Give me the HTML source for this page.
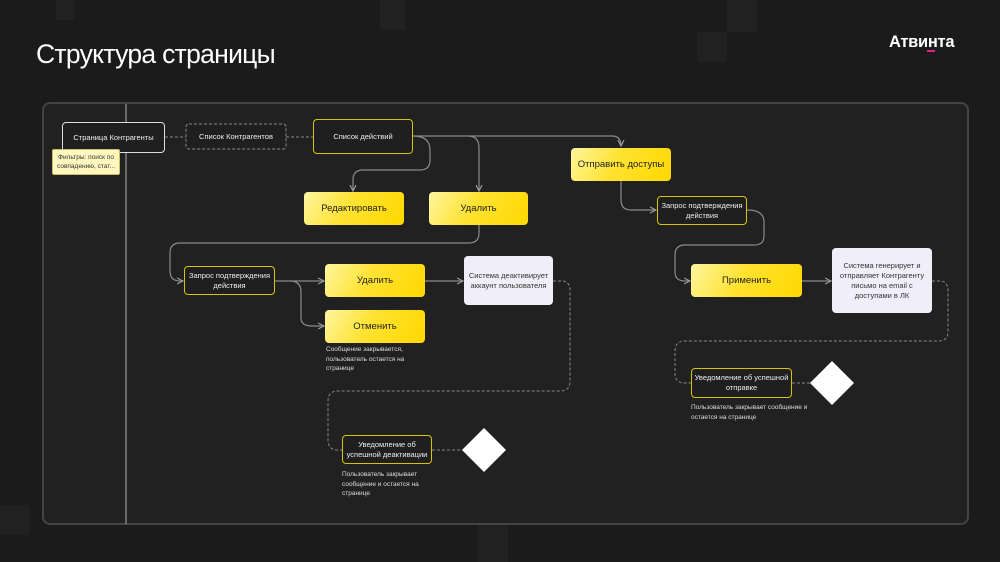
<!DOCTYPE html>
<html><head><meta charset="utf-8"><style>
*{margin:0;padding:0;box-sizing:border-box}
body{width:1000px;height:562px;background:#1b1b1b;position:relative;overflow:hidden;font-family:"Liberation Sans","DejaVu Sans",sans-serif}
.sq{position:absolute;background:#212121}
.n{position:absolute;display:flex;align-items:center;justify-content:center;text-align:center;font-size:7.5px;line-height:10px;color:#eee;border-radius:4px}
.dk{background:#1f1f1f;border:1.3px solid #d9c400}
.yl{background:linear-gradient(120deg,#fff6a0 0%,#ffe230 45%,#ffd800 100%);color:#222;font-size:9.5px;border-radius:4px;font-weight:500}
.lt{background:#f0eff9;color:#333;border-radius:4px}
.t{position:absolute;font-size:6.5px;line-height:9.5px;color:#ddd}
</style></head><body>
<div class="sq" style="left:56px;top:0;width:18px;height:20px"></div>
<div class="sq" style="left:380px;top:0;width:25px;height:30px"></div>
<div class="sq" style="left:697px;top:32px;width:30px;height:30px"></div>
<div class="sq" style="left:727px;top:0;width:30px;height:32px"></div>
<div class="sq" style="left:0;top:505px;width:30px;height:30px"></div>
<div class="sq" style="left:478px;top:525px;width:30px;height:37px"></div>
<div style="position:absolute;left:36px;top:39px;font-size:26.5px;color:#fff;letter-spacing:-0.7px;">Структура страницы</div>
<div style="position:absolute;left:889px;top:33px;font-size:16.5px;font-weight:bold;color:#fff;letter-spacing:-0.3px">Атвинта</div>
<div style="position:absolute;left:927px;top:50px;width:8px;height:2px;background:#e0208a"></div>
<div style="position:absolute;left:42px;top:102px;width:927px;height:423px;border:2px solid #444;border-radius:8px;background:#212121"></div>
<svg width="1000" height="562" style="position:absolute;left:0;top:0">
<defs><marker id="a" markerWidth="6" markerHeight="6" refX="5" refY="3" orient="auto"><path d="M0,0.5 L5,3 L0,5.5" fill="none" stroke="#999" stroke-width="1"/></marker></defs>
<g fill="none" stroke="#8a8a8a" stroke-width="1.2">
<line x1="126" y1="104" x2="126" y2="524" stroke="#999"/>
<path d="M413,136 H612 Q621,136 621,146" marker-end="url(#a)"/>
<path d="M413,136 Q430,136 430,150 V160 Q430,170 420,170 H363 Q353,170 353,180 V191" marker-end="url(#a)"/>
<path d="M468,136 Q479,136 479,148 V191" marker-end="url(#a)"/>
<path d="M479,225 V233 Q479,243 469,243 H180 Q170,243 170,253 V271 Q170,281 180,281 H183" marker-end="url(#a)"/>
<path d="M275,281 H324" marker-end="url(#a)"/>
<path d="M290,281 Q301,281 301,292 V318 Q301,326 312,326 H324" marker-end="url(#a)"/>
<path d="M425,281 H463" marker-end="url(#a)"/>
<path d="M621,181 V200 Q621,210 631,210 H656" marker-end="url(#a)"/>
<path d="M747,210 Q764,210 764,222 V236 Q764,245 754,245 H685 Q675,245 675,255 V272 Q675,281 685,281 H690" marker-end="url(#a)"/>
<path d="M802,281 H831" marker-end="url(#a)"/>
</g>
<g fill="none" stroke="#888" stroke-width="1" stroke-dasharray="3,2">
<line x1="165" y1="137" x2="186" y2="137"/>
<line x1="286" y1="137" x2="313" y2="137"/>
<path d="M553,281 H562 Q570,281 570,291 V381 Q570,391 560,391 H338 Q328,391 328,401 V440 Q328,450 338,450 H342"/>
<line x1="432" y1="450" x2="463" y2="450"/>
<path d="M932,281 H940 Q948,281 948,291 V332 Q948,341 938,341 H685 Q675,341 675,351 V374 Q675,383 685,383 H691"/>
<line x1="792" y1="383" x2="811" y2="383"/>
</g>
<rect x="186" y="124" width="100" height="25" rx="3" fill="#1f1f1f" stroke="#888" stroke-dasharray="3,2"/>
<polygon points="484,428 506,450 484,472 462,450" fill="#fff"/>
<polygon points="832,361 854,383 832,405 810,383" fill="#fff"/>
</svg>
<div class="n" style="left:62px;top:122px;width:103px;height:31px;border:1.3px solid #ddd;background:#1f1f1f">Страница Контрагенты</div>
<div class="n" style="left:52px;top:149px;width:68px;height:26px;background:#fff7bd;color:#333;font-size:6.5px;line-height:9px;border-radius:2px;border:1px solid #c9bd6a">Фильтры: поиск по совпадению, стат...</div>
<div class="n" style="left:186px;top:124px;width:100px;height:25px">Список Контрагентов</div>
<div class="n dk" style="left:313px;top:119px;width:100px;height:35px">Список действий</div>
<div class="n yl" style="left:304px;top:192px;width:100px;height:33px">Редактировать</div>
<div class="n yl" style="left:429px;top:192px;width:99px;height:33px">Удалить</div>
<div class="n dk" style="left:184px;top:266px;width:91px;height:29px">Запрос подтверждения действия</div>
<div class="n yl" style="left:325px;top:264px;width:100px;height:33px">Удалить</div>
<div class="n yl" style="left:325px;top:310px;width:100px;height:33px">Отменить</div>
<div class="n lt" style="left:464px;top:256px;width:89px;height:49px">Система деактивирует аккаунт пользователя</div>
<div class="t" style="left:326px;top:345px;width:100px">Сообщение закрывается, пользователь остается на странице</div>
<div class="n dk" style="left:342px;top:435px;width:90px;height:29px">Уведомление об успешной деактивации</div>
<div class="t" style="left:342px;top:470px;width:90px">Пользователь закрывает сообщение и остается на странице</div>
<div class="n yl" style="left:571px;top:148px;width:100px;height:33px">Отправить доступы</div>
<div class="n dk" style="left:657px;top:196px;width:90px;height:29px">Запрос подтверждения действия</div>
<div class="n yl" style="left:691px;top:264px;width:111px;height:33px">Применить</div>
<div class="n lt" style="left:832px;top:248px;width:100px;height:65px">Система генерирует и отправляет Контрагенту письмо на email с доступами в ЛК</div>
<div class="n dk" style="left:691px;top:368px;width:101px;height:30px">Уведомление об успешной отправке</div>
<div class="t" style="left:691px;top:403px;width:120px">Пользователь закрывает сообщение и остается на странице</div>
</body></html>
